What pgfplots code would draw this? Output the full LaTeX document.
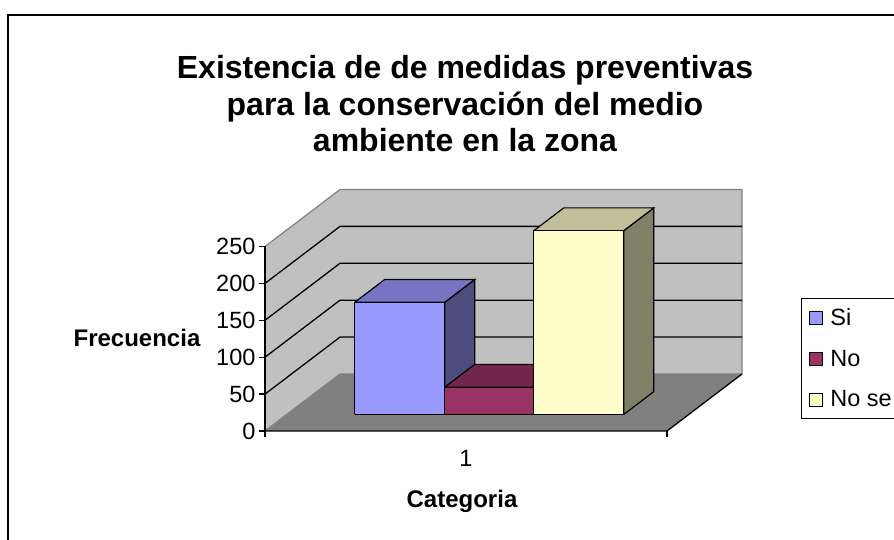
\documentclass[border=0pt]{standalone}
\usepackage{pgfplots}
\pgfplotsset{compat=1.18}
\usepackage{fontspec}
\setmainfont{Liberation Sans}

\definecolor{siFront}{HTML}{9999FF}
\definecolor{siTop}{HTML}{7575C4}
\definecolor{siSide}{HTML}{4D4D80}
\definecolor{noFront}{HTML}{993366}
\definecolor{noTop}{HTML}{73264D}
\definecolor{noSide}{HTML}{4D1A33}
\definecolor{nsFront}{HTML}{FFFFCC}
\definecolor{nsTop}{HTML}{BFBF99}
\definecolor{nsSide}{HTML}{808066}
\definecolor{wallGray}{HTML}{C0C0C0}
\definecolor{floorGray}{HTML}{808080}
\definecolor{edgeGray}{HTML}{808080}

\begin{document}
\begin{tikzpicture}
\path[use as bounding box] (0pt,0pt) rectangle (894pt,540pt);
\clip (0pt,0pt) rectangle (894pt,540pt);

% chart border
\draw[line width=2pt] (8pt,-10pt) -- (8pt,525pt) -- (910pt,525pt);

% title
\node[anchor=base, font=\bfseries\fontsize{32}{37}\selectfont] at (465pt,461pt) {Existencia de de medidas preventivas};
\node[anchor=base, font=\bfseries\fontsize{32}{37}\selectfont] at (465pt,424.5pt) {para la conservación del medio};
\node[anchor=base, font=\bfseries\fontsize{32}{37}\selectfont] at (465pt,388pt) {ambiente en la zona};

% axis titles
\node[anchor=base, font=\bfseries\fontsize{24}{28}\selectfont] at (137pt,193pt) {Frecuencia};
\node[anchor=base, font=\bfseries\fontsize{24}{28}\selectfont] at (462pt,32pt) {Categoria};

\begin{axis}[
  x={(1pt,0pt)}, y={(75pt,57pt)}, z={(0pt,0.738pt)},
  xmin=0, xmax=402, ymin=0, ymax=1, zmin=0, zmax=250,
  hide axis, clip=false, no markers,
  anchor=origin, at={(265pt,109pt)},
  every axis plot/.append style={line width=1.2pt, line join=miter},
  legend image code/.code={\draw[#1,draw=black,line width=0.9pt] (0pt,-6.5pt) rectangle (13pt,6.5pt);},
  legend style={at={(axis cs:536,0,180)}, anchor=north west, draw=black,
    line width=0.9pt, font=\fontsize{23.5}{27}\selectfont,
    inner xsep=8pt, inner ysep=10pt, row sep=23pt, column sep=7pt,
    nodes={inner sep=0pt}},
  legend cell align=left,
]
% walls and floor
\fill[wallGray] (axis cs:0,1,0) -- (axis cs:402,1,0) -- (axis cs:402,1,250) -- (axis cs:0,1,250) -- cycle;
\fill[wallGray] (axis cs:0,0,0) -- (axis cs:0,1,0) -- (axis cs:0,1,250) -- (axis cs:0,0,250) -- cycle;
\fill[floorGray] (axis cs:0,0,0) -- (axis cs:402,0,0) -- (axis cs:402,1,0) -- (axis cs:0,1,0) -- cycle;
\draw[edgeGray, line width=1.2pt] (axis cs:0,0,250) -- (axis cs:0,1,250) -- (axis cs:402,1,250) -- (axis cs:402,1,0);
\draw[edgeGray, line width=1.2pt] (axis cs:0,0,0) -- (axis cs:0,1,0) -- (axis cs:402,1,0);
% gridlines
\pgfplotsinvokeforeach{50,100,150,200}{
  \draw[black, line width=1.3pt] (axis cs:0,0,#1) -- (axis cs:0,1,#1) -- (axis cs:402,1,#1);
}
% floor edges and category ticks
\draw[black, line width=1.3pt] (axis cs:0,0,0) -- (axis cs:402,0,0) -- (axis cs:402,1,0);
\draw[black, line width=1.2pt] (axis cs:0,0,0) -- ++(0pt,-6pt);
\draw[black, line width=1.2pt] (axis cs:402,0,0) -- ++(0pt,-6pt);
\node[font=\fontsize{23.5}{27}\selectfont] at (axis cs:201,0,0) [yshift=-27pt] {1};
% value axis
\draw[black, line width=1.3pt] (axis cs:0,0,0) -- (axis cs:0,0,250);
\pgfplotsinvokeforeach{0,50,100,150,200,250}{
  \draw[black, line width=1.2pt] (axis cs:0,0,#1) -- ++(-6pt,0pt)
    node[anchor=east, inner xsep=3pt, inner ysep=0pt, font=\fontsize{23.5}{27}\selectfont] {#1};
}

% Si = 152
\addplot3[fill=siSide, draw=black, forget plot] coordinates {(158,0.29,0) (158,0.69,0) (158,0.69,152) (158,0.29,152) (158,0.29,0)};
\addplot3[fill=siTop, draw=black, forget plot] coordinates {(68,0.29,152) (158,0.29,152) (158,0.69,152) (68,0.69,152) (68,0.29,152)};
\addplot3[fill=siFront, draw=black, forget plot] coordinates {(68,0.29,0) (158,0.29,0) (158,0.29,152) (68,0.29,152) (68,0.29,0)};
% No = 37
\addplot3[fill=noSide, draw=black, forget plot] coordinates {(247,0.29,0) (247,0.69,0) (247,0.69,37) (247,0.29,37) (247,0.29,0)};
\addplot3[fill=noTop, draw=black, forget plot] coordinates {(158,0.29,37) (247,0.29,37) (247,0.69,37) (158,0.69,37) (158,0.29,37)};
\addplot3[fill=noFront, draw=black, forget plot] coordinates {(158,0.29,0) (247,0.29,0) (247,0.29,37) (158,0.29,37) (158,0.29,0)};
% No se = 249
\addplot3[fill=nsSide, draw=black, forget plot] coordinates {(337,0.29,0) (337,0.69,0) (337,0.69,249) (337,0.29,249) (337,0.29,0)};
\addplot3[fill=nsTop, draw=black, forget plot] coordinates {(247,0.29,249) (337,0.29,249) (337,0.69,249) (247,0.69,249) (247,0.29,249)};
\addplot3[fill=nsFront, draw=black, forget plot] coordinates {(247,0.29,0) (337,0.29,0) (337,0.29,249) (247,0.29,249) (247,0.29,0)};

\addlegendimage{fill=siFront}
\addlegendentry{Si}
\addlegendimage{fill=noFront}
\addlegendentry{No}
\addlegendimage{fill=nsFront}
\addlegendentry{No se}
\end{axis}
\end{tikzpicture}
\end{document}
